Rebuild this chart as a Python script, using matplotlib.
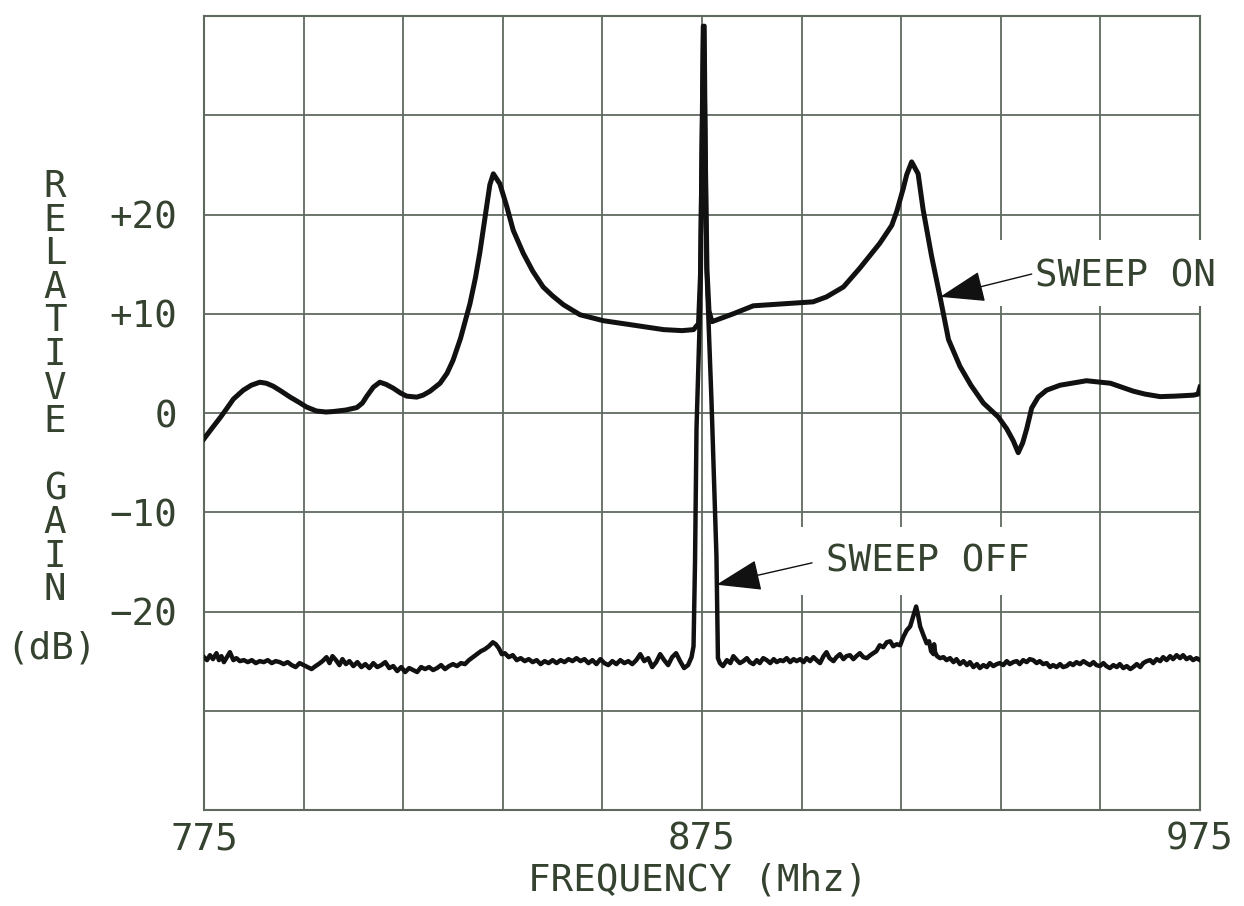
import matplotlib
matplotlib.use("Agg")
import matplotlib.pyplot as plt
from matplotlib.ticker import FixedLocator, FuncFormatter
from matplotlib.patches import Rectangle

# ---------------- data ----------------
on_freq = [775, 776.5, 778.2, 779.5, 780.9, 782.0, 782.9, 784.5, 786.2, 787.5, 788.9, 790.5,
           792.3, 794, 795.6, 797.6, 799.5, 801, 803.5, 805.7, 806.8, 807.7, 809, 810.3, 811.5,
           813, 814.5, 815.7, 817.7, 819, 820.4, 822.4, 823.8, 825, 826.5, 828.4, 829.5, 830.4,
           831.4, 832.4, 833.1, 834.4, 835.8, 837.1, 839.1, 841, 843.1, 845, 847.2, 850.5, 855.2,
           860.6, 867.3, 871, 873.3, 874.3, 874.7, 875.3, 876.0, 876.4, 877.0, 878.6, 881.3, 885.3,
           891.3, 897.3, 900, 903.4, 906.7, 910.7, 913.1, 914.1, 915.4, 916.1, 917.1, 918.4, 919.4,
           921.1, 922.8, 924.5, 926.8, 929, 931.5, 934.5, 936.2, 937.5, 938.5, 939.4, 940.2, 941.2,
           942.5, 944.2, 946.9, 952.2, 957, 961.6, 964, 967, 970, 973.7, 974.6, 975]
on_db = [-2.6, -1.6, -0.5, 0.4, 1.4, 1.9, 2.3, 2.8, 3.1, 3.0, 2.7, 2.2,
         1.6, 1.1, 0.6, 0.2, 0.1, 0.15, 0.3, 0.55, 1.0, 1.7, 2.6, 3.1, 2.9,
         2.5, 2.0, 1.7, 1.6, 1.8, 2.2, 3.0, 4.0, 5.3, 7.5, 11.0, 13.6, 16.2,
         19.6, 23.0, 24.1, 23.1, 20.8, 18.4, 16.1, 14.3, 12.7, 11.8, 10.9, 9.9, 9.3,
         8.9, 8.4, 8.3, 8.4, 9.0, 14.0, 38.5, 14.5, 10.3, 9.2, 9.5, 10.0, 10.8,
         11.0, 11.2, 11.7, 12.7, 14.6, 17.1, 18.9, 20.3, 22.6, 24.0, 25.3, 24.1, 20.5,
         15.8, 11.7, 7.4, 4.7, 2.8, 1.0, -0.4, -1.6, -2.8, -4.0, -3.0, -1.6, 0.5,
         1.6, 2.3, 2.8, 3.25, 3.0, 2.2, 1.9, 1.65, 1.7, 1.8, 1.9, 2.6]

off_freq = [775.0, 775.6, 776.2, 776.8, 777.5, 778.0, 778.5, 779.0, 779.6, 780.2, 780.9, 781.5,
            782.2, 783.0, 783.8, 784.6, 785.4, 786.2, 787.0, 787.8, 788.6, 789.4, 790.2, 791.0,
            791.8, 792.6, 793.4, 794.2, 795.0, 795.8, 796.6, 797.4, 798.0, 798.8, 799.6, 800.2,
            800.8, 801.5, 802.2, 802.8, 803.5, 804.2, 805.0, 805.8, 806.6, 807.4, 808.2, 809.0,
            809.8, 810.6, 811.4, 812.2, 813.0, 813.8, 814.6, 815.4, 816.2, 817.0, 817.8, 818.6,
            819.4, 820.2, 821.0, 821.8, 822.6, 823.4, 824.2, 825.0, 825.8, 826.6, 827.4, 828.2,
            829.0, 829.8, 830.6, 831.4, 832.2, 833.0, 833.6, 834.2, 834.8, 835.4, 836.2, 837.0,
            837.8, 838.6, 839.4, 840.2, 841.0, 841.8, 842.6, 843.4, 844.2, 845.0, 845.8, 846.6,
            847.4, 848.2, 849.0, 849.8, 850.6, 851.4, 852.2, 853.0, 853.8, 854.6, 855.4, 856.2,
            857.0, 857.8, 858.6, 859.4, 860.2, 861.0, 861.8, 862.6, 863.4, 864.2, 865.0, 865.8,
            866.6, 867.4, 868.2, 869.0, 869.8, 870.6, 871.4, 872.2, 872.9, 873.3, 873.6, 873.9,
            874.6, 875.2, 875.5, 875.9, 876.9, 877.9, 878.2, 878.6, 879.2, 880.0, 880.7, 881.3,
            882.0, 882.6, 883.3, 884.0, 884.6, 885.3, 886.0, 886.6, 887.3, 888.0, 888.7, 889.4,
            890.0, 890.7, 891.3, 892.0, 892.7, 893.4, 894.0, 894.7, 895.4, 896.0, 896.7, 897.4,
            898.0, 898.7, 899.4, 900.0, 900.6, 901.4, 902.0, 902.7, 903.4, 904.0, 904.7, 905.4,
            906.0, 906.7, 907.4, 908.1, 908.8, 909.4, 910.0, 910.7, 911.4, 912.1, 912.8, 913.4,
            914.1, 914.8, 915.4, 916.1, 916.8, 917.4, 918.0, 918.4, 918.8, 919.4, 920.1, 920.6,
            921.0, 921.5, 921.6, 921.8, 922.2, 922.8, 923.5, 924.1, 924.8, 925.5, 926.1, 926.8,
            927.5, 928.2, 928.8, 929.5, 930.2, 930.8, 931.5, 932.2, 932.8, 933.5, 934.2, 934.8,
            935.5, 936.2, 936.8, 937.5, 938.2, 938.8, 939.5, 940.2, 940.8, 941.5, 942.2, 942.8,
            943.5, 944.2, 944.9, 945.5, 946.2, 946.9, 947.5, 948.2, 948.9, 949.5, 950.2, 950.9,
            951.6, 952.2, 952.9, 953.6, 954.2, 954.9, 955.6, 956.2, 956.9, 957.6, 958.3, 958.9,
            959.6, 960.3, 961.0, 961.6, 962.3, 963.0, 963.6, 964.3, 965.0, 965.6, 966.3, 967.0,
            967.6, 968.3, 969.0, 969.6, 970.3, 971.0, 971.6, 972.3, 973.0, 973.6, 974.3, 975.0]
off_db = [-24.6, -24.9, -24.4, -24.8, -24.2, -24.9, -24.5, -25.1, -24.6, -24.1, -24.9, -24.7,
          -25.0, -24.9, -25.1, -24.9, -25.2, -25.0, -25.1, -24.9, -25.2, -25.0, -25.1, -25.3,
          -25.1, -25.4, -25.6, -25.2, -25.4, -25.6, -25.8, -25.5, -25.3, -25.0, -24.6, -25.2,
          -24.5, -24.9, -25.4, -24.8, -25.3, -25.0, -25.5, -25.1, -25.6, -25.3, -25.7, -25.2,
          -25.6, -25.4, -25.1, -25.7, -25.5, -26.0, -25.6, -26.1, -25.7, -25.9, -26.1, -25.6,
          -25.8, -25.6, -25.9, -25.7, -25.4, -25.8, -25.5, -25.3, -25.5, -25.2, -25.3, -24.9,
          -24.6, -24.3, -24.0, -23.8, -23.5, -23.1, -23.3, -23.7, -24.3, -24.2, -24.6, -24.4,
          -24.9, -24.7, -25.0, -24.8, -25.1, -24.9, -25.3, -25.0, -25.2, -24.9, -25.2, -24.9,
          -25.1, -24.8, -25.0, -24.7, -25.0, -24.8, -25.2, -24.9, -25.3, -24.8, -25.2, -25.4,
          -25.0, -25.3, -24.9, -25.2, -25.0, -25.3, -24.9, -24.3, -25.0, -24.7, -25.6, -25.1,
          -24.3, -24.9, -25.4, -24.6, -24.2, -25.0, -25.7, -25.4, -24.6, -23.5, -15.0, -1.5,
          10.3, 39.0, 39.0, 14.7, 1.3, -14.4, -24.7, -25.2, -25.5, -24.9, -25.2, -24.5,
          -24.9, -25.2, -25.0, -24.7, -25.1, -25.3, -24.9, -25.2, -24.7, -24.9, -25.2, -24.8,
          -25.1, -24.9, -25.0, -24.7, -25.1, -24.8, -25.0, -24.8, -25.1, -24.7, -25.0, -24.6,
          -24.9, -25.2, -24.5, -24.1, -24.7, -25.0, -24.6, -24.3, -24.8, -24.5, -24.4, -24.8,
          -24.5, -24.2, -24.6, -24.7, -24.4, -24.2, -24.0, -23.4, -23.6, -23.1, -23.0, -23.5,
          -23.3, -23.4, -22.6, -21.9, -21.5, -20.5, -19.5, -20.4, -21.5, -22.3, -23.2, -23.0,
          -24.0, -24.3, -23.3, -24.1, -24.5, -24.7, -24.6, -24.9, -24.7, -25.1, -24.8, -25.3,
          -25.0, -25.4, -25.1, -25.6, -25.3, -25.7, -25.4, -25.6, -25.2, -25.5, -25.3, -25.2,
          -25.4, -25.0, -25.3, -25.1, -25.0, -25.3, -24.9, -25.1, -24.8, -24.9, -25.2, -25.0,
          -25.3, -25.2, -25.6, -25.4, -25.6, -25.3, -25.6, -25.5, -25.2, -25.4, -25.1, -25.3,
          -25.0, -25.2, -25.4, -25.1, -25.4, -25.5, -25.2, -25.5, -25.7, -25.4, -25.6, -25.3,
          -25.7, -25.5, -25.8, -25.6, -25.3, -25.6, -25.2, -25.0, -24.9, -25.2, -24.8, -25.0,
          -24.6, -24.9, -24.5, -24.8, -24.4, -24.7, -24.4, -24.8, -24.6, -24.9, -24.7, -24.9]

x_grid = [775, 795, 815, 835, 855, 875, 895, 915, 935, 955, 975]
x_labels = {775: "775", 875: "875", 975: "975"}
y_grid = [-40, -30, -20, -10, 0, 10, 20, 30, 40]
y_labels = {20: "+20", 10: "+10", 0: "0", -10: "\u221210", -20: "\u221220"}
ylabel_text = "RELATIVE GAIN"
xlabel_text = "FREQUENCY (Mhz)"

# ---------------- style ----------------
TXT = "#34422f"
GRID = "#5f6a5f"
LINE = "#111111"
FONT = "DejaVu Sans Mono"
FS = 27

fig = plt.figure(figsize=(12.44, 9.06), dpi=100)
ax = fig.add_axes([204 / 1244, 1 - 810 / 906, (1200 - 204) / 1244, (810 - 16) / 906])

ax.set_xlim(775, 975)
ax.set_ylim(-40, 40)
ax.xaxis.set_major_locator(FixedLocator(x_grid))
ax.yaxis.set_major_locator(FixedLocator(y_grid))
ax.xaxis.set_major_formatter(FuncFormatter(lambda v, p: x_labels.get(int(round(v)), "")))
ax.yaxis.set_major_formatter(FuncFormatter(lambda v, p: y_labels.get(int(round(v)), "")))
ax.tick_params(length=0, labelsize=FS, labelcolor=TXT)
ax.tick_params(axis="x", pad=8)
ax.tick_params(axis="y", pad=19)
for lab in ax.get_xticklabels() + ax.get_yticklabels():
    lab.set_fontfamily(FONT)
ax.grid(True, color=GRID, lw=1.3, zorder=0)
ax.set_axisbelow(True)
for s in ax.spines.values():
    s.set_color(GRID)
    s.set_linewidth(1.5)
    s.set_zorder(0.5)

ax.plot(off_freq, off_db, color=LINE, lw=3.2, solid_joinstyle="round", zorder=3)
ax.plot(on_freq, on_db, color=LINE, lw=3.6, solid_joinstyle="round", zorder=3)

# white label boxes that interrupt the grid (as on the original plot)
ax.add_patch(Rectangle((934.0, 10.8), 50.0, 6.6, facecolor="white", edgecolor="none",
                       zorder=1, clip_on=False))
ax.add_patch(Rectangle((893.7, -18.3), 50.0, 6.8, facecolor="white", edgecolor="none",
                       zorder=1))

ax.text(941.8, 13.8, "SWEEP ON", family=FONT, fontsize=FS, color=TXT, va="center",
        ha="left", zorder=2, clip_on=False)
ax.text(899.9, -15.0, "SWEEP OFF", family=FONT, fontsize=FS, color=TXT, va="center",
        ha="left", zorder=2)
arrow = dict(arrowstyle="-|>,head_length=1.3,head_width=0.45", color="#111111",
             lw=1.0, shrinkA=0, shrinkB=0, mutation_scale=22)
ax.annotate("", xy=(922.8, 11.7), xytext=(941.2, 14.0), arrowprops=dict(arrow), zorder=4,
            annotation_clip=False)
ax.annotate("", xy=(877.9, -17.3), xytext=(897.1, -15.1), arrowprops=dict(arrow), zorder=4)

# y label stacked letters
for i, ch in enumerate(ylabel_text):
    fig.text(55 / 1244, 1 - (187 + i * 33.6) / 906, ch, family=FONT, fontsize=FS,
             color=TXT, ha="center", va="center")
fig.text(52 / 1244, 1 - 648 / 906, "(dB)", family=FONT, fontsize=FS, color=TXT,
         ha="center", va="center")
fig.text(698 / 1244, 1 - 881 / 906, xlabel_text, family=FONT, fontsize=FS, color=TXT,
         ha="center", va="center")

fig.savefig("out.png", dpi=100, facecolor="white")
